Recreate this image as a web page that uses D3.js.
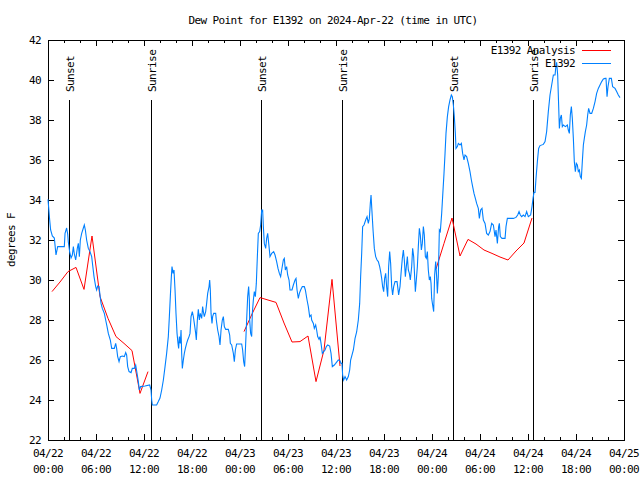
<!DOCTYPE html>
<html><head><meta charset="utf-8">
<script src="https://cdn.jsdelivr.net/npm/d3@7"></script>
<style>
body{margin:0;background:#fff}
svg text{font-family:"DejaVu Sans Mono",monospace;font-size:11px;letter-spacing:-0.6px;fill:#000}
</style></head><body>
<svg id="c" width="640" height="480"></svg>
<script>
// ---- data (hours after 2024-04-22 00:00 UTC) ----
const titleText = "Dew Point for E1392 on 2024-Apr-22 (time in UTC)";
const yLabel = "degrees F";
const seriesNames = ["E1392 Analysis", "E1392"];
const seriesColors = ["#ff0000", "#0080ff"];
const yTicks = [22,24,26,28,30,32,34,36,38,40,42];

const obsHours = [0,0.21,0.33,0.54,0.79,1.0,1.21,2.04,2.13,2.33,2.46,2.54,2.71,2.88,3.04,3.17,3.29,3.46,3.67,3.79,3.92,4.04,4.21,4.42,4.54,4.67,4.83,5.04,5.25,5.46,5.58,5.75,5.96,6.08,6.21,6.38,6.5,6.63,6.79,7.04,7.21,7.38,7.54,7.79,7.96,8.29,8.46,8.58,8.71,8.88,9.04,9.29,9.54,9.71,9.83,9.96,10.13,10.38,10.54,10.79,10.96,11.13,11.29,11.42,11.58,12.13,12.71,12.88,12.96,13.04,13.58,13.79,14.0,14.21,14.42,14.63,14.83,15.04,15.17,15.29,15.42,15.5,15.63,15.75,15.88,16.0,16.13,16.25,16.33,16.42,16.54,16.63,16.71,16.79,16.92,17.04,17.17,17.33,17.46,17.63,17.75,17.88,18.04,18.17,18.29,18.46,18.54,18.67,18.79,18.92,19.04,19.21,19.33,19.42,19.54,19.71,19.83,19.96,20.13,20.21,20.29,20.38,20.5,20.58,20.71,20.96,21.04,21.21,21.38,21.5,21.63,21.79,21.92,22.04,22.21,22.54,22.71,22.79,22.96,23.17,23.29,23.42,23.58,24.21,24.33,24.46,24.58,24.71,24.83,24.96,25.08,25.17,25.21,25.33,25.46,25.54,25.67,25.79,25.92,26.04,26.17,26.29,26.46,26.58,26.71,26.83,26.92,27.04,27.21,27.33,27.46,27.63,27.75,27.96,28.21,28.38,28.58,28.75,28.92,29.08,29.21,29.42,29.54,29.67,29.83,29.96,30.13,30.25,30.5,30.67,30.88,31.0,31.13,31.29,31.42,31.58,31.79,32.04,32.17,32.38,32.54,32.71,32.88,32.96,33.17,33.29,33.46,33.58,33.71,33.88,34.0,34.13,34.29,34.46,34.63,34.79,34.96,35.21,35.38,35.54,35.79,35.96,36.13,36.29,36.5,36.63,36.75,36.83,36.96,37.13,37.33,37.54,37.71,37.83,38.17,38.38,38.58,38.79,38.96,39.08,39.21,39.33,39.5,39.71,39.88,40.04,40.17,40.29,40.38,40.46,40.63,40.79,40.96,41.13,41.29,41.46,41.58,41.71,41.83,41.96,42.08,42.21,42.33,42.46,42.58,42.71,42.83,42.96,43.08,43.21,43.38,43.63,43.71,43.83,44.0,44.13,44.29,44.42,44.54,44.67,44.79,44.92,45.04,45.17,45.29,45.46,45.58,45.71,45.79,45.92,46.04,46.17,46.29,46.42,46.54,46.67,46.79,46.92,47.04,47.17,47.29,47.42,47.54,47.67,47.79,47.88,47.96,48.08,48.21,48.33,48.46,48.58,48.67,48.79,48.92,49.04,49.21,49.33,49.5,49.63,49.75,49.92,50.08,50.25,50.42,50.54,50.67,50.79,50.92,51.0,51.17,51.29,51.5,51.67,51.83,52.0,52.13,52.33,52.54,52.75,52.92,53.08,53.25,53.42,53.58,53.79,53.92,54.08,54.25,54.42,54.63,54.83,55.04,55.25,55.46,55.67,55.88,56.0,56.17,56.33,56.42,56.54,56.75,57.13,57.25,57.42,58.17,58.5,58.71,58.88,59.04,59.21,59.42,59.63,59.83,60.04,60.33,60.5,60.63,60.75,60.88,61.0,61.17,61.33,61.5,61.92,62.13,62.33,62.54,62.75,62.96,63.17,63.38,63.46,63.58,63.71,63.83,63.92,64.04,64.17,64.29,64.42,64.67,64.92,65.04,65.17,65.29,65.42,65.54,65.67,65.79,65.92,66.04,66.17,66.29,66.42,66.54,66.67,66.79,66.92,67.04,67.17,67.33,67.46,67.58,67.75,67.96,68.17,68.38,68.58,68.79,69.0,69.21,69.42,69.63,69.75,69.88,70.0,70.17,70.42,70.58,70.88,71.08,71.29,71.5];
const obsDew = [34.03,33.0,32.5,32.2,32.1,31.25,31.67,31.67,32.33,32.6,32.3,31.9,31.4,31.1,31.25,31.67,31.3,31.0,31.6,31.83,31.17,32.0,32.33,32.6,32.75,32.5,32.0,31.58,31.42,31.17,30.75,30.17,29.67,29.5,29.7,29.67,29.25,28.83,28.58,28.33,28.0,27.67,27.33,27.0,26.58,26.58,26.83,26.58,26.17,25.92,26.17,26.2,26.17,26.37,26.25,25.67,25.42,25.37,25.58,25.58,25.75,25.33,24.92,24.5,24.67,24.7,24.75,24.5,24.0,23.75,23.75,23.92,24.1,24.5,25.0,25.67,26.33,27.17,28.17,29.17,30.17,30.67,30.33,30.5,29.5,28.33,27.33,26.83,26.58,27.17,26.83,27.5,26.33,25.58,26.0,26.33,26.58,26.83,27.0,27.17,27.33,28.17,28.42,28.17,27.83,27.33,27.0,28.0,28.53,28.0,28.33,28.08,28.67,28.42,28.17,28.42,28.83,29.33,29.67,30.0,29.5,28.33,27.83,28.17,28.33,28.33,28.0,27.5,27.17,26.75,27.5,28.0,28.17,27.67,27.53,27.53,27.25,26.83,26.75,26.33,25.92,26.5,26.8,26.8,26.5,25.92,25.67,26.83,28.0,29.17,29.67,29.0,28.0,27.33,27.17,28.33,29.0,29.42,29.17,29.83,31.17,32.33,32.42,32.75,33.5,33.5,32.67,31.83,31.58,32.08,32.33,31.67,31.17,31.33,31.42,31.25,30.92,30.58,30.33,30.17,30.5,31.0,31.08,30.5,30.67,30.25,30.0,29.5,29.5,29.75,30.0,30.08,29.5,29.08,29.33,29.5,29.67,29.67,29.5,29.0,28.67,28.17,28.25,28.0,27.83,27.58,27.75,27.5,27.17,27.03,27.17,26.83,26.33,26.42,26.5,26.67,26.75,26.7,26.33,25.67,25.75,25.83,25.92,26.0,25.97,25.83,25.83,25.25,25.0,25.17,25.0,25.17,25.5,26.0,26.5,27.08,27.4,28.0,28.83,30.17,31.33,32.67,32.75,33.0,33.17,32.83,33.08,33.83,34.25,33.67,32.5,31.58,31.17,31.0,30.92,30.67,30.42,30.08,29.67,29.42,30.08,30.33,29.67,29.17,30.67,31.42,30.83,29.67,29.25,29.67,29.92,29.92,29.67,29.25,29.67,30.33,31.08,31.5,31.0,30.17,30.67,31.17,30.5,30.33,30.0,30.67,31.58,31.17,30.5,29.42,30.0,30.67,31.67,32.58,32.25,31.5,31.83,32.67,32.25,31.17,31.08,31.42,30.5,30.0,30.17,29.83,29.08,28.75,28.42,30.25,30.92,30.17,29.33,30.17,32.5,32.42,33.33,34.17,35.33,36.33,37.33,38.17,38.67,39.0,39.25,39.17,38.75,38.17,37.33,36.58,36.67,36.83,36.75,36.83,36.33,36.0,36.25,36.17,35.83,35.42,35.0,34.67,34.33,34.08,33.83,33.58,33.08,33.5,33.58,33.0,32.83,32.33,32.25,32.42,32.83,32.75,32.17,32.5,31.83,32.67,32.83,32.17,32.08,32.08,32.67,33.08,33.08,33.13,33.25,33.42,33.25,33.17,33.25,33.17,33.42,33.17,33.25,33.67,34.08,34.38,34.38,35.08,35.92,36.58,36.72,36.78,36.92,37.42,38.42,39.25,39.75,40.25,40.25,40.58,40.88,40.25,38.75,37.58,38.08,38.25,37.67,37.75,37.67,37.75,37.5,37.33,38.25,38.67,38.08,37.08,35.92,35.42,35.83,35.75,35.42,35.5,35.17,35.08,35.92,36.75,37.08,37.42,37.75,38.25,38.58,38.33,38.33,38.58,38.92,39.33,39.58,39.75,39.92,40.05,40.08,40.08,39.17,39.67,40.08,40.08,39.67,39.58,39.42,39.25,39.12];

// analysis: hourly at half past, three runs (null = gap)
const anaHours = [0.5,1.5,2.5,3.5,4.5,5.5,6.5,7.5,8.5,9.5,10.5,11.5,12.5, 18.5,
                  24.5,25.5,26.5,27.5,28.5,29.5,30.5,31.5,32.5,33.5,34.5,35.5,36.5, 42.5,
                  48.5,49.5,50.5,51.5,52.5,53.5,54.5,55.5,56.5,57.5,58.5,59.5,60.5];
const anaDew = [29.42,29.9,30.42,30.63,29.53,32.2,29.17,28.08,27.17,26.83,26.47,24.33,25.42, null,
                27.42,28.3,29.12,29.0,28.88,27.85,26.9,26.92,27.2,24.92,26.5,30.03,25.7, null,
                30.55,31.83,33.1,31.2,32.03,31.8,31.5,31.33,31.15,31.0,31.45,31.85,33.1];

const sunLabels = ["Sunset","Sunrise","Sunset","Sunrise","Sunset","Sunrise"];
const sunHours = [2.67,12.83,26.67,36.79,50.67,60.67];

// ---- chart ----
const t0 = Date.UTC(2024,3,22,0,0);
const hToDate = h => new Date(t0 + h*3600e3);
const W = 640, H = 480;
const L = 48, R = 624, T = 40, B = 440;
const svg = d3.select("#c");
svg.append("rect").attr("width",W).attr("height",H).attr("fill","#fff");

const x = d3.scaleUtc().domain([hToDate(0), hToDate(72)]).range([L, R]);
const y = d3.scaleLinear().domain([22,42]).range([B, T]);

const majorX = d3.utcHour.every(6).range(hToDate(0), hToDate(72.01));
const minorX = d3.utcHour.every(2).range(hToDate(0), hToDate(72.01));

function styleAxis(g){
  g.selectAll("path").remove();
  g.selectAll("line").attr("stroke","#000").attr("shape-rendering","crispEdges");
  g.attr("font-family",null).attr("font-size",null);
}
// x ticks (bottom/top, inward)
svg.append("g").attr("transform",`translate(0,${B})`)
  .call(d3.axisBottom(x).tickValues(minorX).tickSize(-3).tickFormat("")).call(styleAxis);
svg.append("g").attr("transform",`translate(0,${B})`)
  .call(d3.axisBottom(x).tickValues(majorX).tickSize(-6).tickFormat("")).call(styleAxis);
svg.append("g").attr("transform",`translate(0,${T})`)
  .call(d3.axisTop(x).tickValues(minorX).tickSize(-3).tickFormat("")).call(styleAxis);
svg.append("g").attr("transform",`translate(0,${T})`)
  .call(d3.axisTop(x).tickValues(majorX).tickSize(-6).tickFormat("")).call(styleAxis);
// y ticks
svg.append("g").attr("transform",`translate(${L},0)`)
  .call(d3.axisLeft(y).tickValues(yTicks).tickSize(-6).tickPadding(7).tickFormat(d3.format("d"))).call(styleAxis);
svg.append("g").attr("transform",`translate(${R},0)`)
  .call(d3.axisRight(y).tickValues(yTicks).tickSize(-6).tickFormat("")).call(styleAxis);

// x labels two lines
const fmtD = d3.utcFormat("%m/%d"), fmtT = d3.utcFormat("%H:%M");
const xl = svg.append("g").selectAll("text").data(majorX).join("text")
  .attr("text-anchor","middle").attr("x", d => x(d));
xl.append("tspan").attr("x", d=>x(d)).attr("y", 457).text(d=>fmtD(d));
xl.append("tspan").attr("x", d=>x(d)).attr("y", 473).text(d=>fmtT(d));

// frame
svg.append("rect").attr("x",L+0.5).attr("y",T+0.5).attr("width",R-L).attr("height",B-T)
  .attr("fill","none").attr("stroke","#000").attr("shape-rendering","crispEdges");

// title & y label
svg.append("text").attr("x",333).attr("y",24).attr("text-anchor","middle").text(titleText);
svg.append("text").attr("transform","translate(15,240) rotate(-90)").attr("text-anchor","middle").text(yLabel);

// sun lines
const sg = svg.append("g");
sunHours.forEach((h,i)=>{
  const xx = Math.round(x(hToDate(h)))+0.5;
  sg.append("line").attr("x1",xx).attr("x2",xx).attr("y1",100).attr("y2",B)
    .attr("stroke","#000").attr("shape-rendering","crispEdges");
  sg.append("text").attr("transform",`translate(${xx+4.5},92) rotate(-90)`).text(sunLabels[i]);
});

// series
const obs = obsHours.map((h,i)=>({t:hToDate(h), v:obsDew[i]}));
const ana = anaHours.map((h,i)=>({t:hToDate(h), v:anaDew[i]}));
const line = d3.line().defined(d=>d.v!=null).x(d=>x(d.t)).y(d=>y(d.v));
svg.append("path").datum(ana).attr("d",line).attr("fill","none")
  .attr("stroke",seriesColors[0]).attr("stroke-width",1);
svg.append("path").datum(obs).attr("d",line).attr("fill","none")
  .attr("stroke",seriesColors[1]).attr("stroke-width",1.1);

// legend
const lg = svg.append("g");
seriesNames.forEach((n,i)=>{
  const yy = 50 + i*13;
  lg.append("text").attr("x",575).attr("y",yy+4).attr("text-anchor","end").text(n);
  lg.append("line").attr("x1",582).attr("x2",611).attr("y1",yy+0.5).attr("y2",yy+0.5)
    .attr("stroke",seriesColors[i]).attr("shape-rendering","crispEdges");
});
</script></body></html>
